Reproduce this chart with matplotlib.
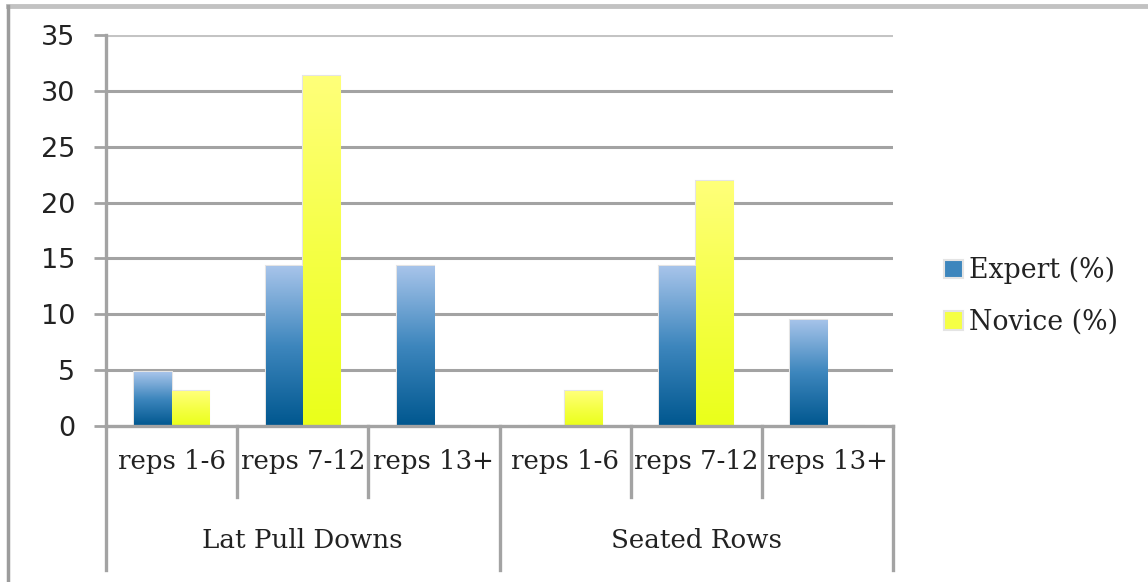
import numpy as np
import matplotlib
matplotlib.use("Agg")
import matplotlib.pyplot as plt
from matplotlib.colors import LinearSegmentedColormap
from matplotlib.lines import Line2D

# Data
groups = ["Lat Pull Downs", "Seated Rows"]
rep_ranges = ["reps 1-6", "reps 7-12", "reps 13+"]
expert_pct = [4.8, 14.3, 14.3, 0.0, 14.3, 9.5]
novice_pct = [3.1, 31.3, 0.0, 3.1, 21.9, 0.0]
series_names = ["Expert (%)", "Novice (%)"]
y_ticks = [0, 5, 10, 15, 20, 25, 30, 35]

GRID = "#a3a3a3"
SERIF = "DejaVu Serif"
TEXT = "#222222"

fig = plt.figure(figsize=(11.48, 5.82), dpi=100)
ax = fig.add_axes([106 / 1148, 1 - 426 / 582, (893 - 106) / 1148, (426 - 35) / 582])

n_cat = len(expert_pct)
x = np.arange(n_cat) + 0.5
w = 0.283

expert_cmap = LinearSegmentedColormap.from_list("exp", ["#00578f", "#3d86bd", "#a7c4ea"])
novice_cmap = LinearSegmentedColormap.from_list("nov", ["#eaff1a", "#f5ff45", "#ffff7a"])

def gradient_bars(xpos, heights, cmap, label):
    bars = ax.bar(xpos, heights, width=w, align="edge", color=cmap(0.5),
                  edgecolor="#e4e4e4", linewidth=1.5, label=label, zorder=3)
    grad = np.linspace(0, 1, 256).reshape(-1, 1)
    for b in bars:
        if b.get_height() <= 0:
            continue
        x0, y0 = b.get_x(), b.get_y()
        im = ax.imshow(grad, cmap=cmap, origin="lower", aspect="auto",
                       extent=[x0, x0 + b.get_width(), y0, y0 + b.get_height()],
                       zorder=4, interpolation="bilinear")
        im.set_clip_path(b)
    return bars

gradient_bars(x - w, expert_pct, expert_cmap, series_names[0])
gradient_bars(x, novice_pct, novice_cmap, series_names[1])

ax.set_xlim(0, n_cat)
ax.set_ylim(0, 35)
ax.set_yticks(y_ticks)
ax.set_yticklabels([str(t) for t in y_ticks], fontsize=19.5, family="DejaVu Sans", color=TEXT)
ax.set_xticks([])
ax.tick_params(axis="y", length=9, width=2, color=GRID, pad=13)

for t in y_ticks[1:]:
    ax.axhline(t, color="#c4c4c4" if t == 35 else GRID, linewidth=2.2, zorder=1)

for s in ["top", "right", "bottom"]:
    ax.spines[s].set_visible(False)
ax.spines["left"].set_color(GRID)
ax.spines["left"].set_linewidth(2.4)

# Category axis boxes below the plot
tr = ax.get_xaxis_transform()
ax.plot([0, n_cat], [0, 0], transform=tr, color=GRID, linewidth=2.4, clip_on=False, zorder=5)
y_rep = -71 / 391
y_grp = -144 / 391
for i in range(n_cat + 1):
    bottom = y_grp if i % 3 == 0 else y_rep
    ax.plot([i, i], [0, bottom], transform=tr, color=GRID, linewidth=2.4, clip_on=False)
for i, xc in enumerate(x):
    ax.text(xc, -36 / 391, rep_ranges[i % 3], transform=tr, ha="center", va="center",
            fontsize=18.7, family=SERIF, color=TEXT)
for g, name in enumerate(groups):
    ax.text(g * 3 + 1.5, -115 / 391, name, transform=tr, ha="center", va="center",
            fontsize=18.8, family=SERIF, color=TEXT)

leg = ax.legend(loc="center left", bbox_to_anchor=(1.034, 0.331), frameon=False,
                prop={"family": SERIF, "size": 19.3}, handlelength=0.7, handleheight=0.7,
                handletextpad=0.25, labelspacing=0.92)
for txt in leg.get_texts():
    txt.set_color(TEXT)

# Outer frame
fig.add_artist(Line2D([8 / 1148, 1], [1 - 6 / 582] * 2, color="#c2c2c2", linewidth=3.5,
                      transform=fig.transFigure))
fig.add_artist(Line2D([8 / 1148] * 2, [0, 1 - 6 / 582], color="#9c9c9c", linewidth=2.5,
                      transform=fig.transFigure))

fig.savefig("out.png", dpi=100)
